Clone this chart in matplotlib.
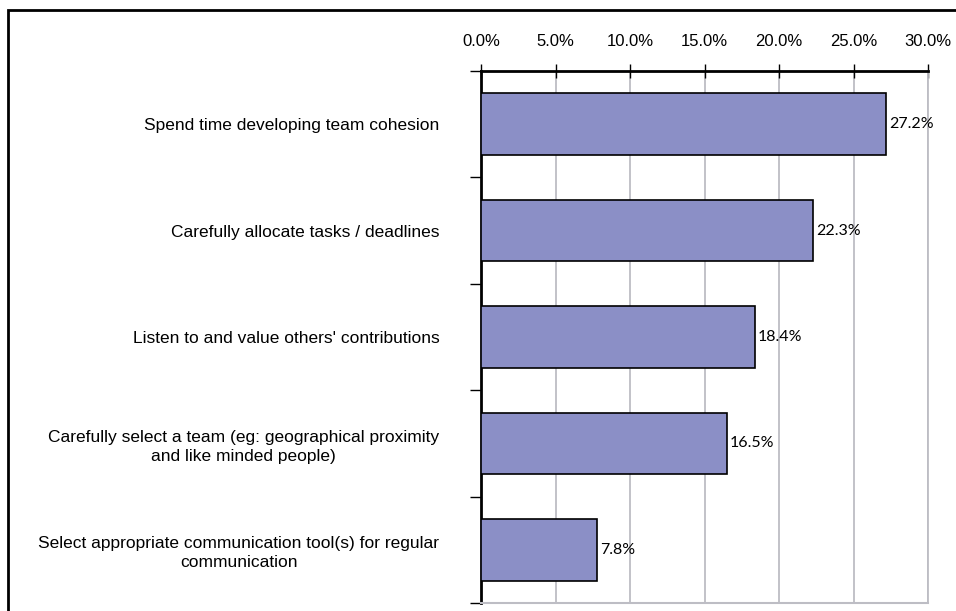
import matplotlib.pyplot as plt
import matplotlib.patches as mpatches
import numpy as np

plt.rcParams['font.family'] = ['Liberation Sans', 'DejaVu Sans']

# survey recommendations and share of responses (%)
categories = [
    "Spend time developing team cohesion",
    "Carefully allocate tasks / deadlines",
    "Listen to and value others' contributions",
    "Carefully select a team (eg: geographical proximity\nand like minded people)",
    "Select appropriate communication tool(s) for regular\ncommunication",
]
values = [27.2, 22.3, 18.4, 16.5, 7.8]
xticks = [0, 5, 10, 15, 20, 25, 30]

fig = plt.figure(figsize=(9.56, 6.11), dpi=100)
ax = fig.add_axes([481/956, 1 - 603/611, (928 - 481)/956, (603 - 71)/611])

ypos = np.arange(len(categories))
ax.barh(ypos, values, height=0.58, color='#8B8FC6', edgecolor='black', linewidth=1.2, zorder=3)
for y, v in zip(ypos, values):
    ax.text(v + 0.2, y, f"{v:.1f}%", va='center', ha='left', fontsize=11.5,
            family=['Lato', 'DejaVu Sans'], zorder=4)

ax.set_xlim(0, 30)
ax.set_ylim(len(categories) - 0.5, -0.5)
ax.set_xticks(xticks)
ax.set_xticklabels([f"{t:.1f}%" for t in xticks], fontsize=12)
ax.xaxis.tick_top()
ax.tick_params(axis='x', direction='inout', length=10, width=1, pad=11, color='black')
ax.grid(axis='x', color='#BDBDC4', linewidth=1.3, zorder=0)

# category ticks sit between the bars
ax.set_yticks(np.arange(-0.5, len(categories), 1.0), minor=False)
ax.set_yticklabels([])
ax.tick_params(axis='y', direction='out', length=8, width=1, color='black')
ax.set_yticks(ypos, minor=True)
ax.set_yticklabels(categories, minor=True, fontsize=12.5, ha='right',
                   multialignment='center', linespacing=1.3)
ax.tick_params(axis='y', which='minor', length=0, pad=30)

ax.spines['left'].set_linewidth(2)
ax.spines['top'].set_linewidth(2)
ax.spines['right'].set_color('#BDBDC4')
ax.spines['bottom'].set_color('#BDBDC4')
ax.spines['right'].set_linewidth(1.3)
ax.spines['bottom'].set_linewidth(1.5)

# outer chart frame
frame = mpatches.Rectangle((8/956, -0.1), 1.2, 1 - 10/611 + 0.1, transform=fig.transFigure,
                           fill=False, edgecolor='black', linewidth=2, clip_on=False)
fig.patches.append(frame)

fig.savefig('out.png', dpi=100)
